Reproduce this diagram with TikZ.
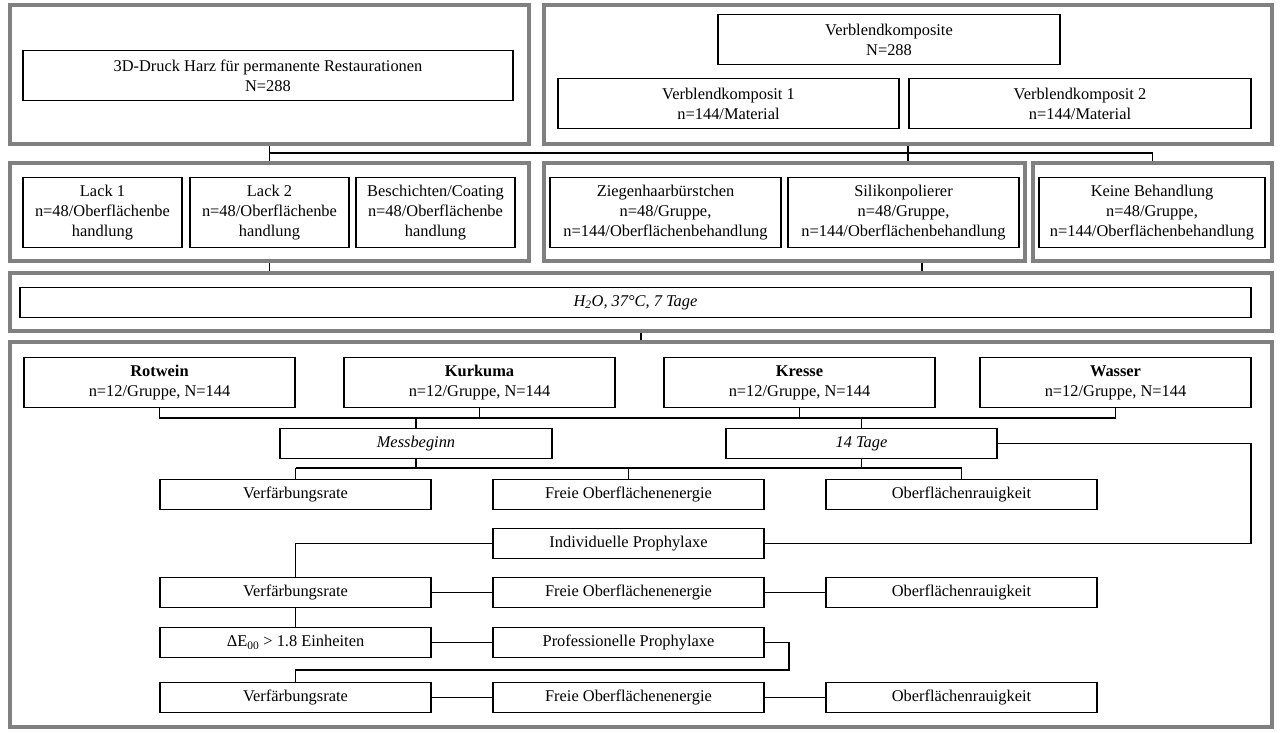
\documentclass[tikz,border=0pt]{standalone}
\usepackage{fontspec}
\setmainfont{Liberation Serif}
\definecolor{grpc}{RGB}{128,128,128}
\newcommand\dfont{\fontsize{16.4}{20}\selectfont}
\tikzset{
  grpbox/.style={draw=grpc, line width=3.5pt, inner sep=0pt},
  box/.style={draw=black, line width=1.1pt, inner sep=0pt, align=center, font=\dfont, fill=white},
  wire/.style={draw=black, line width=1.3pt},
}
\begin{document}
\begin{tikzpicture}[x=1pt,y=-1pt]
\useasboundingbox[fill=white] (0,0) rectangle (1280,733);
% group boxes
\node[grpbox, minimum width=519pt, minimum height=139pt] (A) at (269.5,74.5) {};
\node[grpbox, minimum width=728pt, minimum height=139pt] (B) at (908,74.5) {};
\node[grpbox, minimum width=519pt, minimum height=98pt] (C1) at (269.5,212) {};
\node[grpbox, minimum width=481pt, minimum height=98pt] (C2) at (784.5,212) {};
\node[grpbox, minimum width=239pt, minimum height=98pt] (C3) at (1152.5,212) {};
\node[grpbox, minimum width=1262pt, minimum height=58pt] (D) at (641,302) {};
\node[grpbox, minimum width=1262pt, minimum height=385pt] (E) at (641,534.5) {};
% top row
\node[box, minimum width=490pt, minimum height=50pt] (harz) at (268,75.5) {3D-Druck Harz für permanente Restaurationen\\N=288};
\node[box, minimum width=342pt, minimum height=50pt] (vks) at (889,39.5) {Verblendkomposite\\N=288};
\node[box, minimum width=341pt, minimum height=50pt] (vk1) at (728.5,103.5) {Verblendkomposit 1\\n=144/Material};
\node[box, minimum width=342pt, minimum height=50pt] (vk2) at (1080,103.5) {Verblendkomposit 2\\n=144/Material};
% second row
\node[box, minimum width=159pt, minimum height=70pt] (l1) at (102.5,212.5) {Lack 1\\n=48/Oberflächenbe\\handlung};
\node[box, minimum width=159pt, minimum height=70pt] (l2) at (269.5,212.5) {Lack 2\\n=48/Oberflächenbe\\handlung};
\node[box, minimum width=159pt, minimum height=70pt] (bc) at (435.5,212.5) {Beschichten/Coating\\n=48/Oberflächenbe\\handlung};
\node[box, minimum width=231pt, minimum height=70pt] (zg) at (665.5,212.5) {Ziegenhaarbürstchen\\n=48/Gruppe,\\n=144/Oberflächenbehandlung};
\node[box, minimum width=231pt, minimum height=70pt] (sp) at (903.5,212.5) {Silikonpolierer\\n=48/Gruppe,\\n=144/Oberflächenbehandlung};
\node[box, minimum width=226pt, minimum height=70pt] (kb) at (1152,212.5) {Keine Behandlung\\n=48/Gruppe,\\n=144/Oberflächenbehandlung};
% water
\node[box, minimum width=1231pt, minimum height=30pt] (hw) at (635.5,302.5) {\textit{H\textsubscript{2}O, 37°C, 7 Tage}};
% foods
\node[box, minimum width=271pt, minimum height=50pt] (rot) at (159.5,382.5) {\textbf{Rotwein}\\n=12/Gruppe, N=144};
\node[box, minimum width=271pt, minimum height=50pt] (kur) at (479.5,382.5) {\textbf{Kurkuma}\\n=12/Gruppe, N=144};
\node[box, minimum width=271pt, minimum height=50pt] (kre) at (799.5,382.5) {\textbf{Kresse}\\n=12/Gruppe, N=144};
\node[box, minimum width=271pt, minimum height=50pt] (was) at (1115.5,382.5) {\textbf{Wasser}\\n=12/Gruppe, N=144};
\node[box, minimum width=272pt, minimum height=30pt] (mess) at (416,443.5) {\textit{Messbeginn}};
\node[box, minimum width=271pt, minimum height=30pt] (tage) at (861.5,443.5) {\textit{14 Tage}};
% measurement rows
\node[box, minimum width=271pt, minimum height=30pt] (vf1) at (295.5,494.5) {Verfärbungsrate};
\node[box, minimum width=271pt, minimum height=30pt] (fr1) at (628.5,494.5) {Freie Oberflächenenergie};
\node[box, minimum width=271pt, minimum height=30pt] (or1) at (961.5,494.5) {Oberflächenrauigkeit};
\node[box, minimum width=271pt, minimum height=30pt] (ind) at (628.5,543.5) {Individuelle Prophylaxe};
\node[box, minimum width=271pt, minimum height=30pt] (vf2) at (295.5,592.5) {Verfärbungsrate};
\node[box, minimum width=271pt, minimum height=30pt] (fr2) at (628.5,592.5) {Freie Oberflächenenergie};
\node[box, minimum width=271pt, minimum height=30pt] (or2) at (961.5,592.5) {Oberflächenrauigkeit};
\node[box, minimum width=271pt, minimum height=30pt] (de) at (295.5,642.5) {ΔE\textsubscript{00} > 1.8 Einheiten};
\node[box, minimum width=271pt, minimum height=30pt] (prof) at (628.5,642.5) {Professionelle Prophylaxe};
\node[box, minimum width=271pt, minimum height=30pt] (vf3) at (295.5,697.5) {Verfärbungsrate};
\node[box, minimum width=271pt, minimum height=30pt] (fr3) at (628.5,697.5) {Freie Oberflächenenergie};
\node[box, minimum width=271pt, minimum height=30pt] (or3) at (961.5,697.5) {Oberflächenrauigkeit};
% coordinates
\coordinate (tb) at (0,153);
\coordinate (cx2) at (922,0);
\coordinate (fb) at (0,418);
\coordinate (mb) at (0,468);
\coordinate (rx) at (1251,0);
\coordinate (px) at (789,670);
% wires
\draw[wire] (A.south) -- (C1.north);
\draw[wire] (B.south) -- (B.south |- C2.north);
\draw[wire] (A.south |- tb) -- (C3.north |- tb) -- (C3.north);
\draw[wire] (C1.south) -- (C1.south |- D.north);
\draw[wire] (C2.south -| cx2) -- (D.north -| cx2);
\draw[wire] (D.south) -- (E.north);
\draw[wire] (rot.south) -- (rot.south |- fb) -- (was.south |- fb) -- (was.south);
\draw[wire] (kur.south) -- (kur.south |- fb);
\draw[wire] (kre.south) -- (kre.south |- fb);
\draw[wire] (mess.north |- fb) -- (mess.north);
\draw[wire] (tage.north |- fb) -- (tage.north);
\draw[wire] (mess.south) -- (mess.south |- mb);
\draw[wire] (tage.south) -- (tage.south |- mb);
\draw[wire] (vf1.north |- mb) -- (or1.north |- mb);
\draw[wire] (vf1.north |- mb) -- (vf1.north);
\draw[wire] (fr1.north |- mb) -- (fr1.north);
\draw[wire] (or1.north |- mb) -- (or1.north);
\draw[wire] (tage.east) -- (tage.east -| rx) |- (ind.east);
\draw[wire] (ind.west) -| (vf2.north);
\draw[wire] (vf2.east) -- (fr2.west);
\draw[wire] (fr2.east) -- (or2.west);
\draw[wire] (vf2.south) -- (de.north);
\draw[wire] (de.east) -- (prof.west);
\draw[wire] (prof.east) -| (px) -| (vf3.north);
\draw[wire] (vf3.east) -- (fr3.west);
\draw[wire] (fr3.east) -- (or3.west);
\end{tikzpicture}
\end{document}
